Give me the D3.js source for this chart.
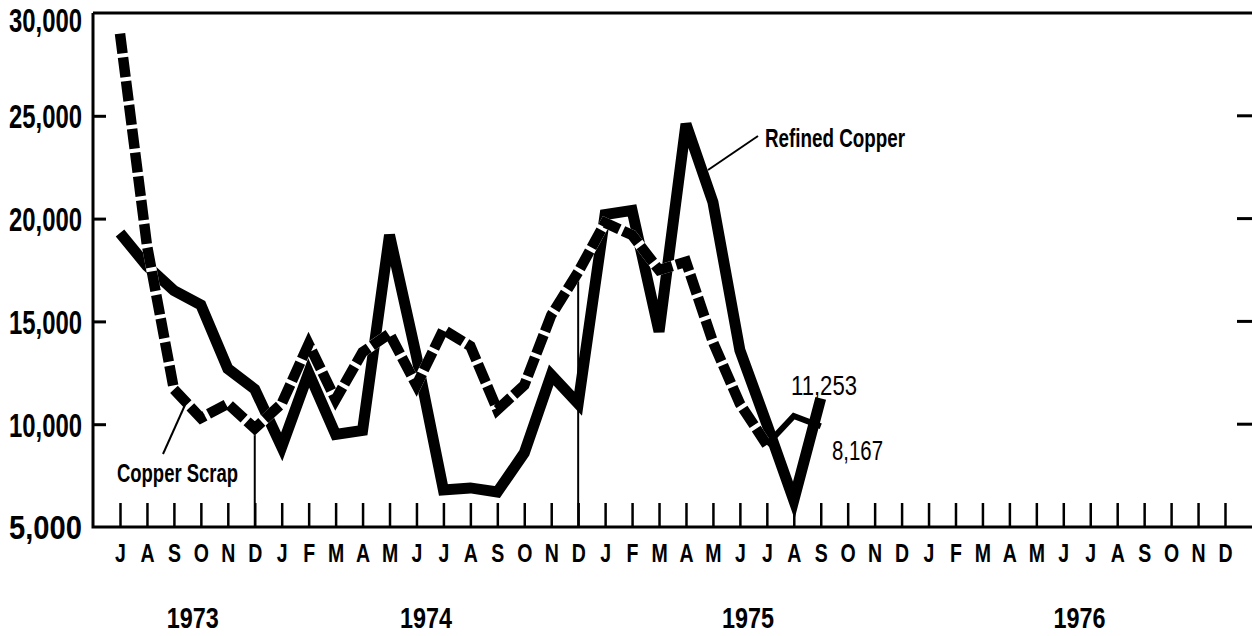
<!DOCTYPE html>
<meta charset="utf-8">
<style>
    body { margin: 0; background: #fff; }
    text { font-family: "Liberation Sans", Arial, sans-serif; fill: #000; }
    .axis .domain { display: none; }
</style>
<svg width="1252" height="636"></svg>
<script src="https://d3js.org/d3.v7.min.js"></script>
<script>
    // months Jul 1973 .. Dec 1976
    var months = "J A S O N D J F M A M J J A S O N D J F M A M J J A S O N D J F M A M J J A S O N D".split(" ");
    var years = ["1973", "1974", "1975", "1976"];
    var yearAt = [2.7, 11.35, 23.3, 35.6]; // position along the month axis
    var yTicks = [5000, 10000, 15000, 20000, 25000, 30000];

    // Jul 1973 .. Sep 1975
    var refined = [19300, 17700, 16500, 15800, 12700, 11700, 8900, 12500, 9500, 9700,
        19200, 13300, 6800, 6900, 6700, 8600, 12400, 11000, 20200, 20400,
        14500, 24600, 20800, 13600, 10000, 6300, 11253];
    var scrap = [29000, 18700, 11700, 10300, 11000, 9800, 11000, 13900, 11200, 13500,
        14400, 11900, 14600, 13800, 10700, 11900, 15300, 17400, 19800, 19200,
        17500, 17900, 14000, 11000, 9000, 10400, 9900];
    var yearEnds = [5, 17]; // December separators

    var svg = d3.select("svg");
    svg.append("rect").attr("width", 1252).attr("height", 636).attr("fill", "#fff");

    var x = d3.scaleLinear().domain([0, months.length - 1]).range([120, 1225]);
    var y = d3.scaleLinear().domain([5000, 30000]).range([527, 13]);

    // squeeze text horizontally, the original type is a condensed face
    function condense(sel, k) {
        sel.each(function () {
            var w = this.getComputedTextLength();
            d3.select(this).attr("textLength", w * k).attr("lengthAdjust", "spacingAndGlyphs");
        });
    }

    // frame
    svg.append("path")
        .attr("d", "M93," + y(30000) + "V" + y(5000) + "H1252M93," + y(30000) + "H1252")
        .attr("fill", "none").attr("stroke", "#000").attr("stroke-width", 3);

    // left axis, ticks pointing inward
    var ya = svg.append("g").attr("class", "axis")
        .attr("transform", "translate(93,0)")
        .call(d3.axisLeft(y).tickValues(yTicks).tickSize(-13).tickPadding(11).tickFormat(d3.format(",")));
    ya.selectAll(".tick line").attr("stroke-width", 3)
        .attr("display", function (d) { return d === 5000 || d === 30000 ? "none" : null; });
    ya.selectAll("text").attr("font-size", 33).attr("font-weight", "bold")
        .attr("dy", function (d) { return d === 30000 ? "0.55em" : "0.36em"; })
        .attr("textLength", 73).attr("lengthAdjust", "spacingAndGlyphs");

    // right-hand ticks
    svg.append("g").selectAll("line")
        .data(yTicks.slice(1, 5))
        .enter().append("line")
        .attr("x1", 1237).attr("x2", 1252)
        .attr("y1", function (d) { return y(d); }).attr("y2", function (d) { return y(d); })
        .attr("stroke", "#000").attr("stroke-width", 3);

    // month axis
    var xa = svg.append("g").attr("class", "axis")
        .attr("transform", "translate(0," + y(5000) + ")")
        .call(d3.axisBottom(x).tickValues(d3.range(months.length)).tickSize(-24)
            .tickFormat(function (i) { return months[i]; }));
    xa.selectAll(".tick line").attr("stroke-width", 2.5);
    xa.selectAll("text").attr("y", 35).attr("dy", null)
        .attr("font-size", 25).attr("font-weight", "bold")
        .call(condense, 0.78);

    // year labels
    svg.append("g").selectAll("text")
        .data(years)
        .enter().append("text")
        .attr("x", function (d, i) { return x(yearAt[i]); })
        .attr("y", 628)
        .attr("text-anchor", "middle")
        .attr("font-size", 30).attr("font-weight", "bold")
        .attr("textLength", 52).attr("lengthAdjust", "spacingAndGlyphs")
        .text(function (d) { return d; });

    // thin December separators
    svg.append("g").selectAll("line")
        .data(yearEnds)
        .enter().append("line")
        .attr("x1", function (i) { return x(i); }).attr("x2", function (i) { return x(i); })
        .attr("y1", y(5000)).attr("y2", function (i) { return y(scrap[i]); })
        .attr("stroke", "#000").attr("stroke-width", 2);

    var line = d3.line()
        .x(function (d) { return x(d.i); })
        .y(function (d) { return y(d.v); });
    function pts(arr, from, to) {
        return arr.slice(from, to).map(function (v, k) { return { i: from + k, v: v }; });
    }

    // refined copper, solid
    svg.append("path").datum(pts(refined, 0, refined.length))
        .attr("d", line).attr("fill", "none")
        .attr("stroke", "#000").attr("stroke-width", 11)
        .attr("stroke-linejoin", "miter");

    // copper scrap, dashed with white breaks
    var dashPts = pts(scrap, 0, 25);
    svg.append("path").datum(dashPts)
        .attr("d", line).attr("fill", "none")
        .attr("stroke", "#fff").attr("stroke-width", 10.5);
    svg.append("path").datum(dashPts)
        .attr("d", line).attr("fill", "none")
        .attr("stroke", "#000").attr("stroke-width", 10.5)
        .attr("stroke-dasharray", "20,4");
    svg.append("path").datum(pts(scrap, 24, scrap.length))
        .attr("d", line).attr("fill", "none")
        .attr("stroke", "#000").attr("stroke-width", 6);

    // annotations
    svg.append("line").attr("x1", 708).attr("y1", 170).attr("x2", 758).attr("y2", 136)
        .attr("stroke", "#000").attr("stroke-width", 2);
    svg.append("text").attr("x", 765).attr("y", 147)
        .attr("font-size", 26).attr("font-weight", "bold")
        .attr("textLength", 140).attr("lengthAdjust", "spacingAndGlyphs")
        .text("Refined Copper");

    svg.append("line").attr("x1", 163).attr("y1", 454).attr("x2", 185).attr("y2", 405)
        .attr("stroke", "#000").attr("stroke-width", 2);
    svg.append("text").attr("x", 117).attr("y", 482)
        .attr("font-size", 25).attr("font-weight", "bold")
        .attr("textLength", 121).attr("lengthAdjust", "spacingAndGlyphs")
        .text("Copper Scrap");

    svg.append("text").attr("x", 791).attr("y", 395)
        .attr("font-size", 27)
        .attr("textLength", 66).attr("lengthAdjust", "spacingAndGlyphs")
        .text("11,253");
    svg.append("text").attr("x", 832).attr("y", 460)
        .attr("font-size", 27)
        .attr("textLength", 51).attr("lengthAdjust", "spacingAndGlyphs")
        .text("8,167");
</script>
